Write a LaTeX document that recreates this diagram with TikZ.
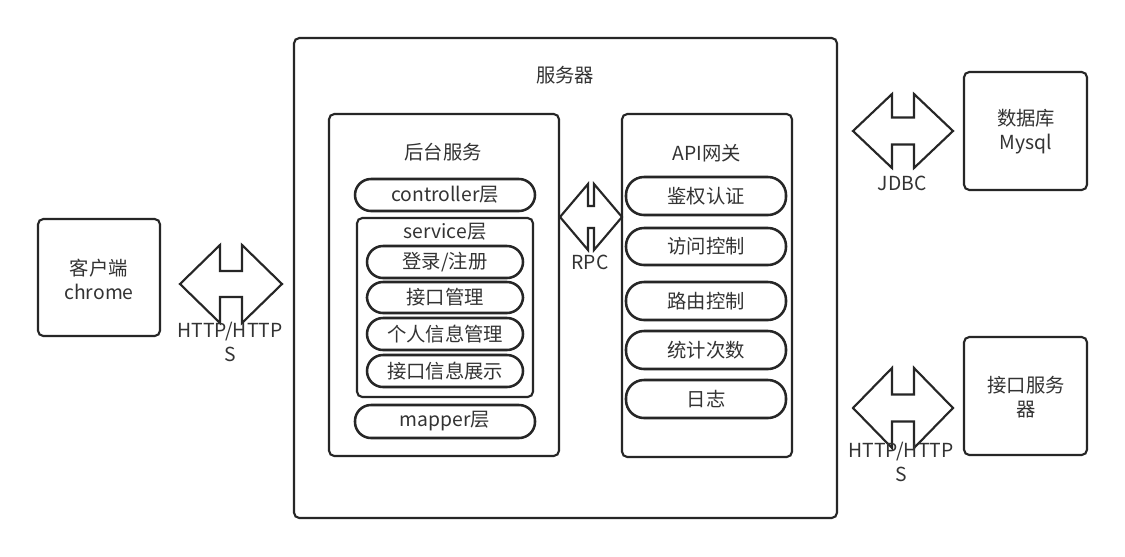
\documentclass[tikz,border=0pt]{standalone}
\usepackage{fontspec}
\setmainfont{Noto Sans CJK SC}
\usetikzlibrary{fit}
\definecolor{ln}{HTML}{262626}
\definecolor{tx}{HTML}{333333}
\tikzset{
  x=0.75pt, y=-0.75pt,
  every node/.style={text=tx, font=\fontsize{14.5pt}{18pt}\selectfont, inner sep=0pt},
  box/.style={draw=ln, line width=1.6pt, rounded corners=4pt},
  pill/.style={draw=ln, line width=1.9pt, rounded corners=12pt},
  apill/.style={draw=ln, line width=1.9pt, rounded corners=13.5pt},
  arr/.style={draw=ln, line width=1.6pt, line join=miter, fill=white},
  lbl/.style={align=center}
}
\newcommand\dblarrow[7]{%
  \coordinate (#1) at (#2,#3);
  \draw[arr] ([shift={(-#4,0)}]#1) -- ([shift={(-#4+#5,-#6)}]#1) -- ([shift={(-#4+#5,-#7)}]#1)
   -- ([shift={(#4-#5,-#7)}]#1) -- ([shift={(#4-#5,-#6)}]#1) -- ([shift={(#4,0)}]#1)
   -- ([shift={(#4-#5,#6)}]#1) -- ([shift={(#4-#5,#7)}]#1) -- ([shift={(-#4+#5,#7)}]#1)
   -- ([shift={(-#4+#5,#6)}]#1) -- cycle;}
\begin{document}
\begin{tikzpicture}
\useasboundingbox[fill=white] (0,0) rectangle (1125,557);
% client
\node[box, fit={(38,219) (160,336)}] (client) {};
\node[lbl] (clientt) at (99,279) {客户端\\chrome};
% server
\node[box, fit={(294,38) (837,518)}] (server) {};
\node (servert) at (565,75) {服务器};
% backend
\node[box, fit={(329,114) (559,456)}] (backend) {};
\node (backendt) at (443,152) {后台服务};
\node[pill, fit={(355,179) (535,211)}] (ctrl) {};
\node (ctrlt) at (ctrl.center) {controller层};
\node[box, fit={(357,218) (533,397)}] (svc) {};
\node (svct) at (445,232) {service层};
\node[pill, fit={(367,246) (523,278)}] (login) {};
\node (logint) at (login.center) {登录/注册};
\node[pill, fit={(367,282) (523,313)}] (ifm) {};
\node (ifmt) at (ifm.center) {接口管理};
\node[pill, fit={(367,318) (523,350)}] (pim) {};
\node (pimt) at (pim.center) {个人信息管理};
\node[pill, fit={(367,355) (523,387)}] (ifs) {};
\node (ifst) at (ifs.center) {接口信息展示};
\node[pill, fit={(355,405) (535,438)}] (mapper) {};
\node (mappert) at (mapper.center) {mapper层};
% API gateway
\node[box, fit={(622,114) (792,457)}] (api) {};
\node (apit) at (707,153) {API网关};
\node[apill, fit={(626,177) (786,215)}] (auth) {};
\node (autht) at (auth.center) {鉴权认证};
\node[apill, fit={(626,228) (786,265)}] (acc) {};
\node (acct) at (acc.center) {访问控制};
\node[apill, fit={(626,282) (786,320)}] (route) {};
\node (routet) at (route.center) {路由控制};
\node[apill, fit={(626,331) (786,369)}] (stat) {};
\node (statt) at (stat.center) {统计次数};
\node[apill, fit={(626,380) (786,418)}] (log) {};
\node (logt) at (log.center) {日志};
% right boxes
\node[box, fit={(964,72) (1087,190)}] (db) {};
\node[lbl] (dbt) at (1026,132) {数据库\\Mysql};
\node[box, fit={(964,337) (1087,455)}] (isvr) {};
\node[lbl] (isvrt) at (1026,397) {接口服务\\器};
% arrows
\dblarrow{a1}{231}{284}{51}{40}{39}{13}
\node[lbl] (a1t) at (230,342) {HTTP/HTTP\\S};
\dblarrow{a2}{591}{217}{31}{28}{33}{11}
\node (a2t) at (590,262) {RPC};
\dblarrow{a3}{903}{131}{50}{39}{37}{13.5}
\node (a3t) at (902,183) {JDBC};
\dblarrow{a4}{903}{408}{50}{39}{40}{13.5}
\node[lbl] (a4t) at (901,462) {HTTP/HTTP\\S};
\end{tikzpicture}
\end{document}
